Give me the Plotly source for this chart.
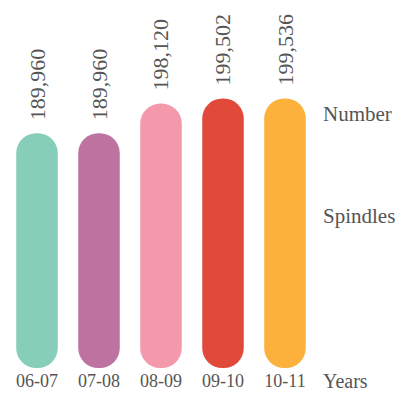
import plotly.graph_objects as go

years = ["06-07", "07-08", "08-09", "09-10", "10-11"]
spindles = [189960, 189960, 198120, 199502, 199536]
colors = ["#86CDBA", "#BE72A0", "#F499AB", "#E1493B", "#FBB13C"]
value_labels = [f"{v:,}" for v in spindles]
side_labels = ["Number", "Spindles", "Years"]

FONT = "Liberation Serif"
GREY = "#555555"

y_bottom = 125203
y_top = 226697

fig = go.Figure()
fig.add_trace(go.Bar(
    x=years, y=[v - y_bottom for v in spindles], base=y_bottom,
    marker=dict(color=colors, line=dict(width=0)),
    customdata=spindles, hovertemplate="%{x}: %{customdata:,}<extra></extra>",
    showlegend=False,
))

for yr, v, lab in zip(years, spindles, value_labels):
    fig.add_annotation(x=yr, y=v, text=lab, textangle=-90, showarrow=False,
                       xanchor="center", yanchor="bottom", yshift=11,
                       font=dict(family=FONT, size=22, color=GREY))

for txt, yy, fs in zip(side_labels, [114, 216, 381], [21, 21, 20]):
    fig.add_annotation(xref="paper", yref="paper", x=1, y=1 - yy / 368,
                       text=txt, showarrow=False, xanchor="left", yanchor="middle",
                       xshift=5, font=dict(family=FONT, size=fs, color=GREY))

fig.update_layout(
    width=395, height=395,
    margin=dict(l=6, r=79, t=0, b=27),
    paper_bgcolor="white", plot_bgcolor="white",
    bargap=0.33, barcornerradius="50%",
    xaxis=dict(type="category", showgrid=False, zeroline=False, showline=False, ticks="",
               tickfont=dict(family=FONT, size=18, color=GREY), range=[-0.5, 4.5]),
    yaxis=dict(range=[y_bottom, y_top], visible=False),
)

fig.write_html("out.html")
